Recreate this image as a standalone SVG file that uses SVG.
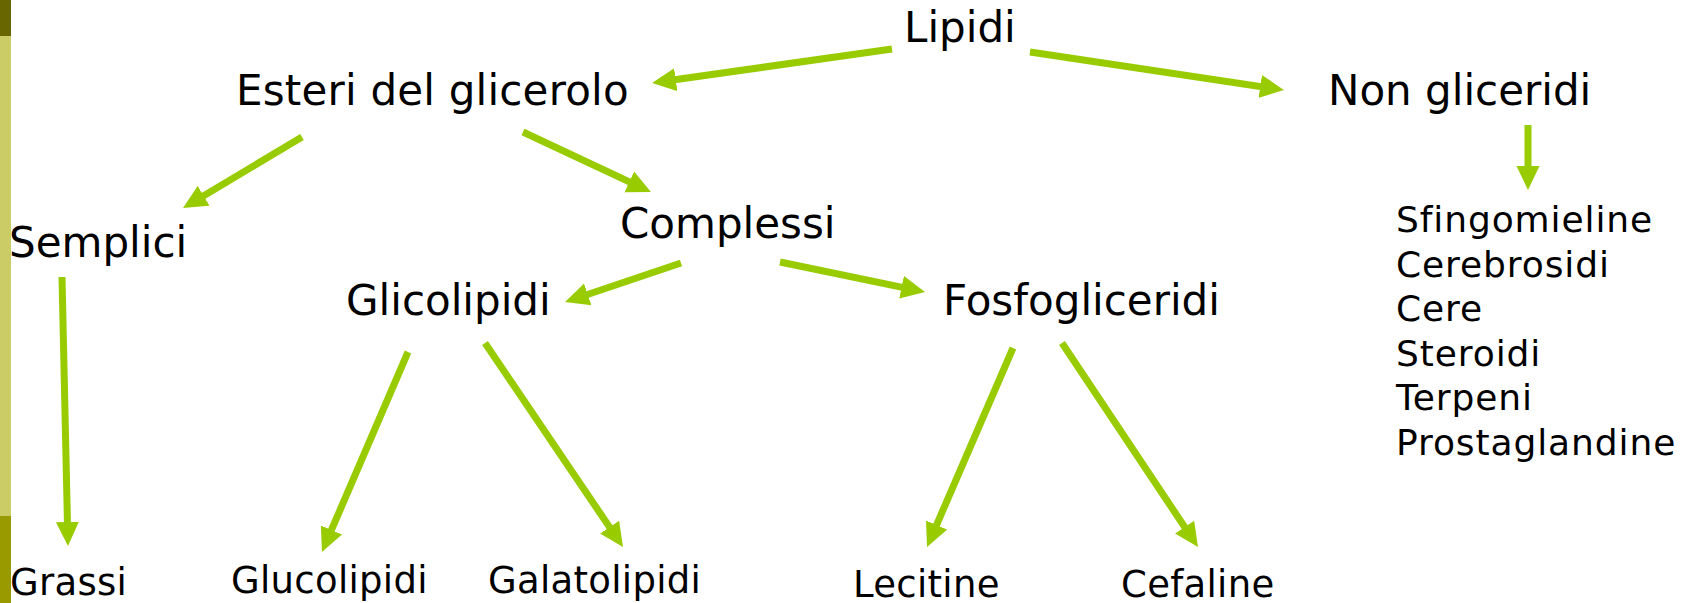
<svg xmlns="http://www.w3.org/2000/svg" width="1686" height="603" viewBox="0 0 1686 603">
<style>
.t{font-family:"DejaVu Sans","Verdana",sans-serif;fill:#000}
.big{font-size:42px}
.mid{font-size:36px;letter-spacing:0.9px}
.sm{font-size:37px;letter-spacing:0.3px}
.c line{stroke:#99cc00;stroke-width:7;marker-end:url(#ah)}
</style>
<defs>
<marker id="ah" markerUnits="userSpaceOnUse" markerWidth="24" markerHeight="24" viewBox="0 0 24 24" refX="12" refY="12" orient="auto">
<path d="M0,0.5 L24,12 L0,23.5 Z" fill="#99cc00"/>
</marker>
</defs>
<rect width="1686" height="603" fill="#fff"/>
<g id="sidebar">
<rect x="0" y="0" width="11" height="36" fill="#676600"/>
<rect x="0" y="36" width="11" height="480" fill="#cccc66"/>
<rect x="0" y="516" width="11" height="87" fill="#999900"/>
</g>
<g class="c" id="connectors">
<line x1="892" y1="49" x2="663.9" y2="81.3"/>
<line x1="1030" y1="52" x2="1272.1" y2="88.2"/>
<line x1="1528" y1="125" x2="1528" y2="178"/>
<line x1="302" y1="137" x2="193.3" y2="201.9"/>
<line x1="523" y1="132" x2="640.1" y2="186.9"/>
<line x1="62" y1="277" x2="67.7" y2="534"/>
<line x1="681" y1="263" x2="576.4" y2="298.2"/>
<line x1="780" y1="262" x2="913.3" y2="289.6"/>
<line x1="408" y1="352" x2="326.7" y2="541"/>
<line x1="485" y1="343" x2="616.3" y2="537.1"/>
<line x1="1013" y1="348" x2="931.8" y2="536"/>
<line x1="1062" y1="343" x2="1191.3" y2="537"/>
</g>
<g id="lipidi"><text class="t big" x="904" y="42">Lipidi</text></g>
<g id="esteri"><text class="t big" x="236" y="105" letter-spacing="0.2">Esteri del glicerolo</text></g>
<g id="nongliceridi"><text class="t big" x="1328" y="105">Non gliceridi</text></g>
<g id="semplici"><text class="t big" x="9" y="257">Semplici</text></g>
<g id="complessi"><text class="t big" x="620" y="238">Complessi</text></g>
<g id="glicolipidi"><text class="t big" x="346" y="315">Glicolipidi</text></g>
<g id="fosfogliceridi"><text class="t big" x="943" y="315">Fosfogliceridi</text></g>
<g id="lista">
<text class="t mid" x="1396" y="232">Sfingomieline</text>
<text class="t mid" x="1396" y="276.6">Cerebrosidi</text>
<text class="t mid" x="1396" y="321.2">Cere</text>
<text class="t mid" x="1396" y="365.8">Steroidi</text>
<text class="t mid" x="1396" y="410.4">Terpeni</text>
<text class="t mid" x="1396" y="455">Prostaglandine</text>
</g>
<g id="grassi"><text class="t sm" x="10" y="595">Grassi</text></g>
<g id="glucolipidi"><text class="t sm" x="231" y="593">Glucolipidi</text></g>
<g id="galatolipidi"><text class="t sm" x="488" y="593">Galatolipidi</text></g>
<g id="lecitine"><text class="t sm" x="853" y="597">Lecitine</text></g>
<g id="cefaline"><text class="t sm" x="1121" y="597">Cefaline</text></g>
</svg>
